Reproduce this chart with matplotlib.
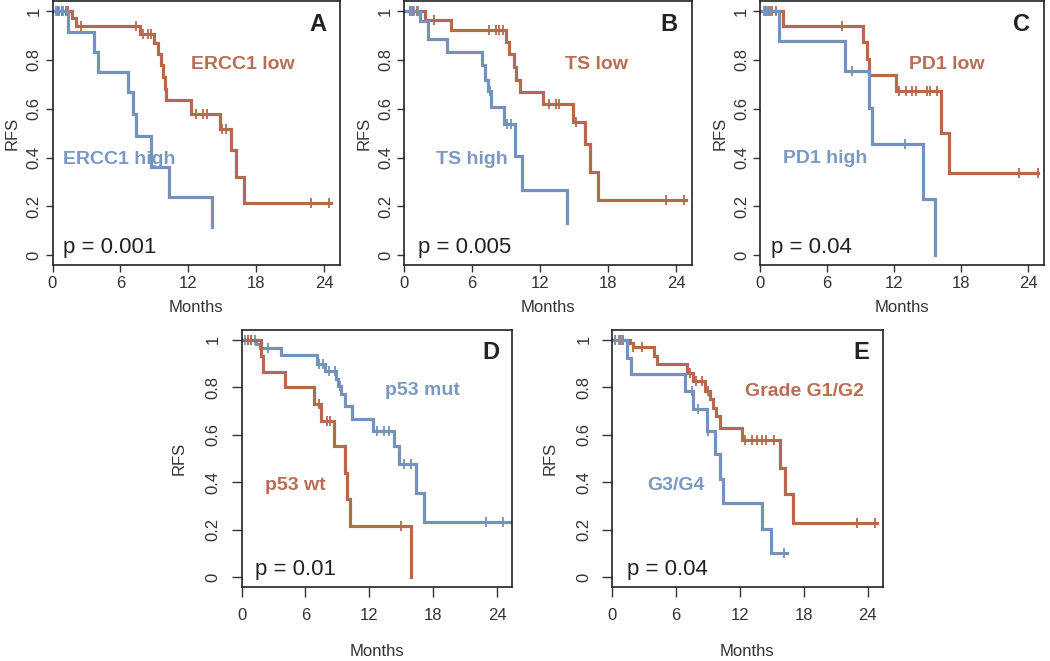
import numpy as np
import matplotlib
matplotlib.use("Agg")
import matplotlib.pyplot as plt

plt.rcParams['font.family'] = ['Liberation Sans', 'DejaVu Sans']

ORANGE = '#B5694F'
BLUE = '#7592B9'
ORANGE_TXT = '#B86E55'
BLUE_TXT = '#7A98C2'

# ---- data (months, survival after each drop, censor times) ----
# A: ERCC1
ercc1_low_t = [1.7, 2.1, 7.7, 9.0, 9.3, 9.6, 9.75, 9.9, 10.05, 12.25, 14.75, 15.8, 16.2, 16.95]
ercc1_low_s = [0.97, 0.94, 0.908, 0.869, 0.826, 0.778, 0.73, 0.682, 0.634, 0.58, 0.519, 0.43, 0.32, 0.214]
ercc1_low_c = [0.5, 0.8, 1.2, 1.4, 2.55, 7.35, 8.0, 8.4, 8.7, 12.7, 13.3, 13.6, 15.0, 15.3, 22.8, 24.4]
ercc1_low_end = 24.6
ercc1_high_t = [1.35, 3.7, 4.0, 6.65, 7.1, 7.4, 8.7, 10.3, 14.1]
ercc1_high_s = [0.914, 0.832, 0.75, 0.668, 0.58, 0.487, 0.36, 0.24, 0.116]
ercc1_high_c = [0.3, 0.6, 0.9]
ercc1_high_end = 14.1

# B: TS
ts_low_t = [1.85, 4.17, 8.94, 9.24, 9.69, 9.84, 10.2, 12.28, 14.9, 15.95, 16.4, 17.1]
ts_low_s = [0.965, 0.921, 0.873, 0.825, 0.77, 0.716, 0.668, 0.618, 0.546, 0.457, 0.341, 0.225]
ts_low_c = [0.5, 0.8, 1.1, 2.6, 7.5, 8.1, 8.4, 8.7, 12.8, 13.4, 13.7, 15.2, 23.1, 24.7]
ts_low_end = 24.9
ts_high_t = [1.43, 2.08, 3.78, 6.85, 7.15, 7.4, 7.7, 8.85, 9.75, 10.43, 14.37]
ts_high_s = [0.96, 0.887, 0.832, 0.778, 0.719, 0.672, 0.607, 0.539, 0.405, 0.266, 0.132]
ts_high_c = [0.6, 0.9, 1.2, 7.6, 9.1, 9.4]
ts_high_end = 14.37

# C: PD1
pd1_low_t = [2.0, 9.2, 9.57, 9.77, 12.2, 16.2, 16.9]
pd1_low_s = [0.939, 0.873, 0.805, 0.737, 0.673, 0.502, 0.338]
pd1_low_c = [0.5, 0.8, 1.1, 1.4, 7.3, 12.4, 13.1, 13.6, 14.0, 14.9, 15.2, 15.8, 23.2, 24.9]
pd1_low_end = 24.9
pd1_high_t = [1.7, 7.58, 9.77, 9.98, 14.6, 15.65]
pd1_high_s = [0.877, 0.754, 0.604, 0.454, 0.229, 0.0]
pd1_high_c = [0.3, 0.6, 0.9, 8.2, 13.0]
pd1_high_end = 15.65

# D: p53
p53_mut_t = [1.35, 1.7, 3.68, 7.07, 7.86, 8.87, 9.06, 9.34, 9.75, 10.38, 12.36, 14.3, 14.8, 16.35, 17.1]
p53_mut_s = [0.98, 0.967, 0.935, 0.897, 0.869, 0.834, 0.806, 0.771, 0.719, 0.668, 0.616, 0.553, 0.475, 0.356, 0.233]
p53_mut_c = [0.3, 0.6, 0.9, 1.25, 2.5, 7.3, 7.6, 8.2, 8.8, 9.2, 12.7, 13.4, 13.8, 15.25, 15.9, 22.96, 24.5]
p53_mut_end = 25.2
p53_wt_t = [1.8, 2.0, 4.09, 6.82, 7.5, 8.7, 9.75, 9.9, 10.2, 15.9]
p53_wt_s = [0.93, 0.866, 0.799, 0.731, 0.658, 0.553, 0.44, 0.328, 0.215, 0.0]
p53_wt_c = [0.6, 0.9, 7.3, 8.0, 8.3, 15.0]
p53_wt_end = 15.9

# E: grade
g12_t = [1.66, 1.98, 3.9, 4.17, 7.0, 7.6, 8.7, 9.2, 9.5, 9.8, 10.1, 12.2, 15.8, 16.25, 17.0]
g12_s = [0.985, 0.968, 0.932, 0.897, 0.862, 0.827, 0.785, 0.75, 0.714, 0.679, 0.63, 0.578, 0.461, 0.349, 0.229]
g12_c = [0.3, 0.7, 1.0, 2.0, 2.76, 7.3, 7.9, 8.4, 9.0, 12.5, 13.1, 13.6, 14.1, 14.5, 15.2, 23.0, 24.7]
g12_end = 24.9
g34_t = [1.35, 1.8, 6.84, 7.6, 8.88, 9.66, 10.1, 10.45, 14.1, 14.9]
g34_s = [0.925, 0.855, 0.785, 0.707, 0.616, 0.518, 0.412, 0.314, 0.204, 0.10]
g34_c = [0.3, 0.6, 0.9, 7.47, 8.1, 9.0, 16.1]
g34_end = 16.4

x_ticks = [0, 6, 12, 18, 24]
y_ticks = [0, 0.2, 0.4, 0.6, 0.8, 1.0]
y_tick_labels = ['0', '0.2', '0.4', '0.6', '0.8', '1']


def km_curve(ax, times, surv, cens, end, color):
    x = [0] + list(times) + [end]
    y = [1.0] + list(surv) + [surv[-1]]
    ax.plot(x, y, drawstyle='steps-post', color=color, lw=2.3, solid_joinstyle='miter')
    idx = np.searchsorted(times, cens, side='right')
    lev = np.concatenate([[1.0], surv])[idx]
    ax.plot(cens, lev, ls='none', marker='|', ms=7, mew=1.3, color=color)


def setup(ax, letter, ptext, px, top_row):
    ax.set_xlim(0, 25.4)
    ax.set_ylim(-0.04, 1.04)
    ax.set_xticks(x_ticks)
    ax.set_yticks(y_ticks)
    ax.set_yticklabels(y_tick_labels, rotation=90, va='center')
    for s in ax.spines.values():
        s.set_linewidth(1.2)
        s.set_color('#222222')
    if top_row:
        ax.tick_params(axis='both', length=5, width=1, color='#333333', labelsize=12,
                       labelcolor='#333333', pad=3)
        ax.yaxis.set_label_coords(-0.14, 0.5)
        ax.xaxis.set_label_coords(0.5, -0.16)
    else:
        ax.tick_params(axis='both', length=7, width=1, color='#333333', labelsize=12,
                       labelcolor='#333333', pad=8)
        ax.yaxis.set_label_coords(-0.23, 0.5)
        ax.xaxis.set_label_coords(0.5, -0.253)
    ax.set_ylabel('RFS', fontsize=12, color='#333333', va='center')
    ax.set_xlabel('Months', fontsize=12, color='#333333', va='center')
    ax.text(23.4, 0.918, letter, fontsize=17, fontweight='bold', color='#222222',
            ha='center', va='baseline')
    ax.text(px, 0.01, ptext, fontsize=16, color='#222222', ha='left', va='baseline')


fig = plt.figure(figsize=(10.5, 6.61), dpi=100)

axA = fig.add_axes([0.050, 0.599, 0.274, 0.399])
km_curve(axA, ercc1_low_t, ercc1_low_s, ercc1_low_c, ercc1_low_end, ORANGE)
km_curve(axA, ercc1_high_t, ercc1_high_s, ercc1_high_c, ercc1_high_end, BLUE)
axA.text(16.8, 0.764, 'ERCC1 low', color=ORANGE_TXT, fontsize=14, fontweight='bold', ha='center', va='baseline')
axA.text(5.93, 0.372, 'ERCC1 high', color=BLUE_TXT, fontsize=14, fontweight='bold', ha='center', va='baseline')
setup(axA, 'A', 'p = 0.001', 0.94, True)

axB = fig.add_axes([0.385, 0.599, 0.274, 0.399])
km_curve(axB, ts_low_t, ts_low_s, ts_low_c, ts_low_end, ORANGE)
km_curve(axB, ts_high_t, ts_high_s, ts_high_c, ts_high_end, BLUE)
axB.text(16.98, 0.764, 'TS low', color=ORANGE_TXT, fontsize=14, fontweight='bold', ha='center', va='baseline')
axB.text(5.96, 0.372, 'TS high', color=BLUE_TXT, fontsize=14, fontweight='bold', ha='center', va='baseline')
setup(axB, 'B', 'p = 0.005', 1.2, True)

axC = fig.add_axes([0.724, 0.599, 0.270, 0.399])
km_curve(axC, pd1_low_t, pd1_low_s, pd1_low_c, pd1_low_end, ORANGE)
km_curve(axC, pd1_high_t, pd1_high_s, pd1_high_c, pd1_high_end, BLUE)
axC.text(16.7, 0.764, 'PD1 low', color=ORANGE_TXT, fontsize=14, fontweight='bold', ha='center', va='baseline')
axC.text(5.8, 0.377, 'PD1 high', color=BLUE_TXT, fontsize=14, fontweight='bold', ha='center', va='baseline')
setup(axC, 'C', 'p = 0.04', 0.97, True)

axD = fig.add_axes([0.230, 0.1124, 0.258, 0.388])
km_curve(axD, p53_mut_t, p53_mut_s, p53_mut_c, p53_mut_end, BLUE)
km_curve(axD, p53_wt_t, p53_wt_s, p53_wt_c, p53_wt_end, ORANGE)
axD.text(16.95, 0.767, 'p53 mut', color=BLUE_TXT, fontsize=14, fontweight='bold', ha='center', va='baseline')
axD.text(5.0, 0.367, 'p53 wt', color=ORANGE_TXT, fontsize=14, fontweight='bold', ha='center', va='baseline')
setup(axD, 'D', 'p = 0.01', 1.26, False)

axE = fig.add_axes([0.583, 0.1124, 0.2575, 0.388])
km_curve(axE, g12_t, g12_s, g12_c, g12_end, ORANGE)
km_curve(axE, g34_t, g34_s, g34_c, g34_end, BLUE)
axE.text(18.04, 0.761, 'Grade G1/G2', color=ORANGE_TXT, fontsize=14, fontweight='bold', ha='center', va='baseline')
axE.text(5.96, 0.367, 'G3/G4', color=BLUE_TXT, fontsize=14, fontweight='bold', ha='center', va='baseline')
setup(axE, 'E', 'p = 0.04', 1.35, False)

fig.savefig('out.png', dpi=100)
